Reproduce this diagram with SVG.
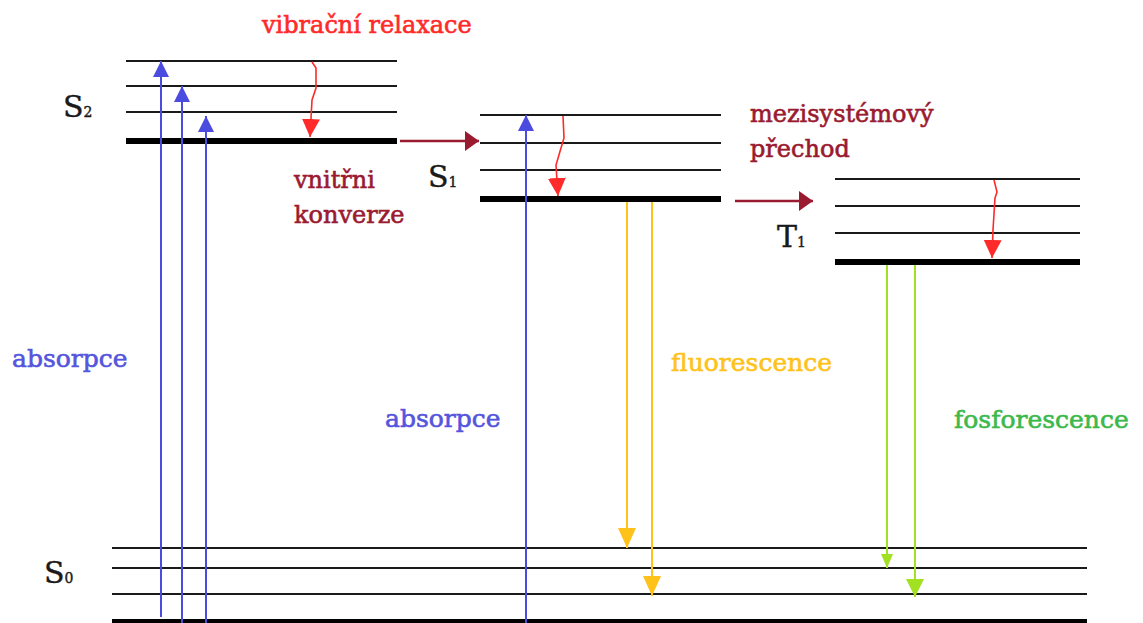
<svg xmlns="http://www.w3.org/2000/svg" width="1143" height="623" viewBox="0 0 1143 623">
<style>
.lv{stroke:#1a1a1a;stroke-width:2.2;fill:none}
.lvt{stroke:#000;stroke-width:6;fill:none}
.t{font-family:"DejaVu Serif","Liberation Serif",serif;font-size:24px;stroke-width:0.6}
.t25{font-size:25px}
.lab{font-family:"DejaVu Serif","Liberation Serif",serif;font-size:30px;fill:#1a1a1a;stroke:#1a1a1a;stroke-width:0.4}
.sub{font-size:14px}
.blue{stroke:#4b4be0;stroke-width:2;fill:none}
.red{stroke:#ff2a2a;stroke-width:1.6;fill:none}
.dred{stroke:#9a1a30;stroke-width:2.5;fill:none}
.yel{stroke:#ffc21a;stroke-width:2;fill:none}
.grn{stroke:#a2e022;stroke-width:2;fill:none}
</style>
<defs>
<marker id="mb" viewBox="0 0 16 16" refX="16" refY="8" markerWidth="16" markerHeight="16" orient="auto" markerUnits="userSpaceOnUse"><path d="M0,0 L16,8 L0,16 Z" fill="#4b4be0"/></marker>
<marker id="mr" viewBox="0 0 18 18" refX="18" refY="9" markerWidth="18" markerHeight="18" orient="auto" markerUnits="userSpaceOnUse"><path d="M0,0 L18,9 L0,18 Z" fill="#ff2a2a"/></marker>
<marker id="md" viewBox="0 0 14 20" refX="14" refY="10" markerWidth="14" markerHeight="20" orient="auto" markerUnits="userSpaceOnUse"><path d="M0,0 L14,10 L0,20 Z" fill="#9a1a30"/></marker>
<marker id="my" viewBox="0 0 20 18" refX="20" refY="9" markerWidth="20" markerHeight="18" orient="auto" markerUnits="userSpaceOnUse"><path d="M0,0 L20,9 L0,18 Z" fill="#ffc21a"/></marker>
<marker id="mg" viewBox="0 0 18 18" refX="18" refY="9" markerWidth="18" markerHeight="18" orient="auto" markerUnits="userSpaceOnUse"><path d="M0,0 L18,9 L0,18 Z" fill="#a2e022"/></marker>
<marker id="mgs" viewBox="0 0 14 12" refX="14" refY="6" markerWidth="14" markerHeight="12" orient="auto" markerUnits="userSpaceOnUse"><path d="M0,0 L14,6 L0,12 Z" fill="#a2e022"/></marker>
</defs>
<rect width="1143" height="623" fill="#fff"/>

<g id="S2">
<line class="lv" x1="126" y1="61" x2="397" y2="61"/>
<line class="lv" x1="126" y1="86" x2="397" y2="86"/>
<line class="lv" x1="126" y1="112" x2="397" y2="112"/>
<line class="lvt" x1="126" y1="141" x2="397" y2="141"/>
<text class="lab" x="63" y="117">S<tspan class="sub">2</tspan></text>
</g>

<g id="S1">
<line class="lv" x1="480" y1="115" x2="721" y2="115"/>
<line class="lv" x1="480" y1="143" x2="721" y2="143"/>
<line class="lv" x1="480" y1="170" x2="721" y2="170"/>
<line class="lvt" x1="480" y1="199" x2="721" y2="199"/>
<text class="lab" x="428" y="187">S<tspan class="sub">1</tspan></text>
</g>

<g id="T1">
<line class="lv" x1="835" y1="179" x2="1080" y2="179"/>
<line class="lv" x1="835" y1="206" x2="1080" y2="206"/>
<line class="lv" x1="835" y1="233" x2="1080" y2="233"/>
<line class="lvt" x1="835" y1="262" x2="1080" y2="262"/>
<text class="lab" x="777" y="247">T<tspan class="sub">1</tspan></text>
</g>

<g id="S0">
<line class="lv" x1="112" y1="548" x2="1087" y2="548"/>
<line class="lv" x1="112" y1="568" x2="1087" y2="568"/>
<line class="lv" x1="112" y1="594" x2="1087" y2="594"/>
<line class="lvt" x1="112" y1="622" x2="1087" y2="622"/>
<text class="lab" x="44" y="583">S<tspan class="sub">0</tspan></text>
</g>

<g id="connectors">
<line class="blue" x1="161" y1="617" x2="161" y2="61" marker-end="url(#mb)"/>
<line class="blue" x1="182" y1="623" x2="182" y2="86" marker-end="url(#mb)"/>
<line class="blue" x1="206" y1="623" x2="206" y2="116" marker-end="url(#mb)"/>
<line class="blue" x1="526" y1="623" x2="526" y2="115" marker-end="url(#mb)"/>
<path class="red" d="M312,62 L316,68 L316,88 L312,100 L310,137" marker-end="url(#mr)"/>
<path class="red" d="M563,116 L564,138 L561,148 L556,165 L558,196" marker-end="url(#mr)"/>
<path class="red" d="M994,180 L997,192 L995,198 L993,230 L992,258" marker-end="url(#mr)"/>
<line class="dred" x1="400" y1="141" x2="479" y2="141" marker-end="url(#md)"/>
<line class="dred" x1="735" y1="201" x2="813" y2="201" marker-end="url(#md)"/>
<line class="yel" x1="627" y1="202" x2="627" y2="548" marker-end="url(#my)"/>
<line class="yel" x1="652" y1="202" x2="652" y2="596" marker-end="url(#my)"/>
<line class="grn" x1="887" y1="265" x2="887" y2="568" marker-end="url(#mgs)"/>
<line class="grn" x1="915" y1="265" x2="915" y2="597" marker-end="url(#mg)"/>
</g>

<g id="labels">
<text class="t" x="262" y="33" fill="#ff2a2a" stroke="#ff2a2a">vibrační relaxace</text>
<text class="t" x="294" y="188" fill="#9a1a30" stroke="#9a1a30">vnitřni</text>
<text class="t" x="294" y="223" fill="#9a1a30" stroke="#9a1a30">konverze</text>
<text class="t" x="750" y="122" fill="#9a1a30" stroke="#9a1a30">mezisystémový</text>
<text class="t" x="750" y="157" fill="#9a1a30" stroke="#9a1a30">přechod</text>
<text class="t t25" x="12" y="367" fill="#5555dd" stroke="#5555dd">absorpce</text>
<text class="t t25" x="385" y="427" fill="#5555dd" stroke="#5555dd">absorpce</text>
<text class="t t25" x="671" y="371" fill="#ffc21a" stroke="#ffc21a">fluorescence</text>
<text class="t t25" x="954" y="428" fill="#3cb94a" stroke="#3cb94a">fosforescence</text>
</g>
</svg>
